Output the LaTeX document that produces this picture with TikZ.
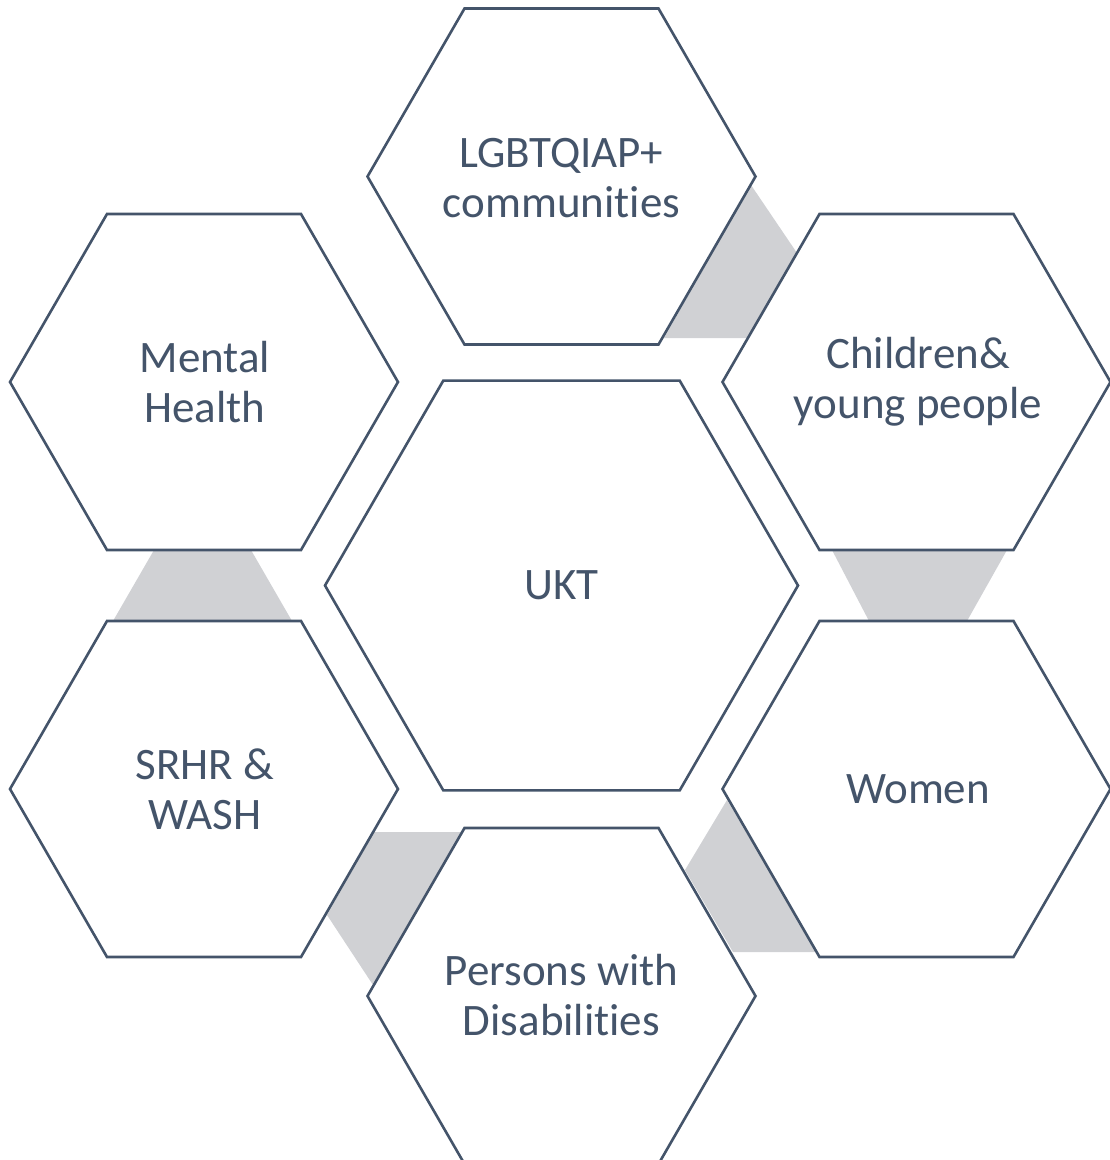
\documentclass[tikz,border=0pt]{standalone}
\usepackage{fontspec}
\setmainfont{Carlito}[Ligatures=NoCommon]
\definecolor{hexline}{HTML}{44546A}
\definecolor{linkgray}{HTML}{D0D1D4}
\newcommand{\hexpath}[3]{({#1-#3},{#2}) -- ({#1-#3/2},{#2-0.866*#3}) -- ({#1+#3/2},{#2-0.866*#3}) -- ({#1+#3},{#2}) -- ({#1+#3/2},{#2+0.866*#3}) -- ({#1-#3/2},{#2+0.866*#3}) -- cycle}
\begin{document}
\begin{tikzpicture}[x=1pt,y=-1pt,
  hexbox/.style={draw=hexline,fill=white,line width=2.6pt,line join=miter},
  link/.style={fill=linkgray,draw=none},
  lbl/.style={align=center,text=hexline,font=\fontsize{45}{50}\selectfont,inner sep=0pt}]
\useasboundingbox (0,0) rectangle (1110,1160);
\clip (0,0) rectangle (1110,1160);
% connectors (behind)
\fill[link] (751,185) -- (797,253) -- (748,338) -- (664,338) -- cycle;
\fill[link] (832,550) -- (1007,550) -- (967,621) -- (869,621) -- cycle;
\fill[link] (154,550) -- (251,550) -- (292,621) -- (113,621) -- cycle;
\fill[link] (727,800) -- (817,952) -- (733,952) -- (685,870) -- cycle;
\fill[link] (374,832) -- (463,832) -- (373,985) -- (327,915) -- cycle;
% hexagons
\draw[hexbox] \hexpath{561.5}{176.5}{194};
\draw[hexbox] \hexpath{204}{382}{194};
\draw[hexbox] \hexpath{916.5}{382}{194};
\draw[hexbox] \hexpath{561.5}{585.5}{236.5};
\draw[hexbox] \hexpath{204}{789}{194};
\draw[hexbox] \hexpath{916.5}{789}{194};
\draw[hexbox] \hexpath{561.5}{996}{194};
% labels
\node[lbl] (lgbt) at (561.5,178) {LGBTQIAP+\\communities};
\node[lbl] (mental) at (205,382) {Mental\\Health};
\node[lbl] (child) at (918,382) {Children\&\\young people};
\node[lbl] (ukt) at (561.5,585) {UKT};
\node[lbl] (srhr) at (205,789) {SRHR \&\\WASH};
\node[lbl] (women) at (918,789) {Women};
\node[lbl] (persons) at (561.5,995) {Persons with\\Disabilities};
\end{tikzpicture}
\end{document}
